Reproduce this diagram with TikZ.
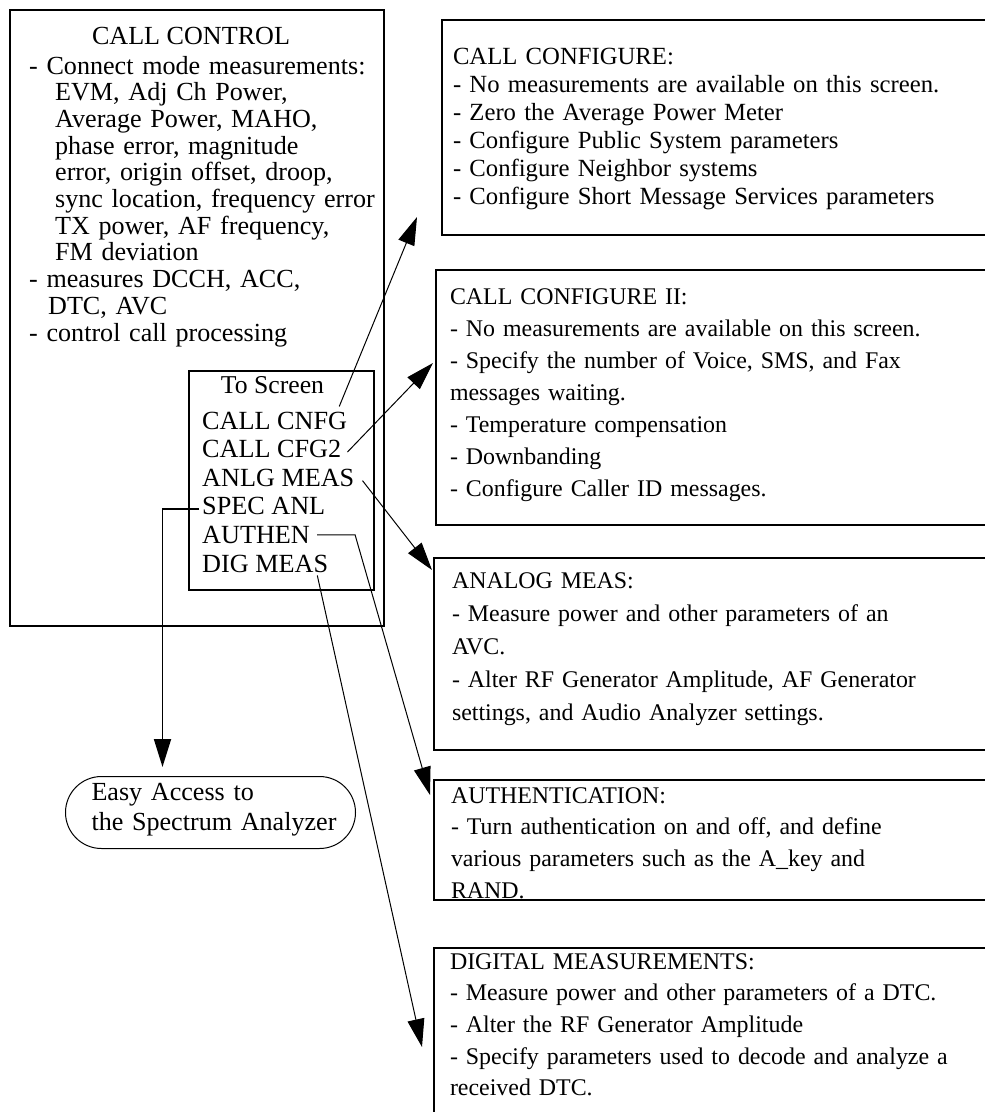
\documentclass[tikz,border=0pt]{standalone}
\usepackage{fontspec}
\setmainfont{Liberation Serif}
\usetikzlibrary{positioning, arrows.meta, calc}

\begin{document}
\begin{tikzpicture}[x=1pt, y=-1pt,
    ctlframe/.style={draw, line width=2pt, inner sep=0pt, anchor=north west},
    scrbox/.style={draw, line width=2pt, inner ysep=0pt, anchor=north west, text width=530pt, align=left, font=\fontsize{23.9}{32}\selectfont},
    scritem/.style={inner sep=0pt, anchor=base west, font=\fontsize{26.2}{28}\selectfont},
    arrow/.style={line width=1pt, -{Triangle[length=28pt,width=17pt]}},
]
\useasboundingbox (0,0) rectangle (985,1112);
\clip (0,0) rectangle (985,1112);

% Call control screen
\node (ctrl) [ctlframe, minimum width=374pt, minimum height=616pt] at (9,9) {};
\node (ctrltitle) [anchor=base, inner sep=0pt, font=\fontsize{26.1}{27}\selectfont] at (191,44) {CALL CONTROL};
\node (ctrllist) [anchor=base west, text width=420pt, align=left, inner sep=0pt, font=\fontsize{26.1}{26.7}\selectfont] at (29,74) {- Connect mode measurements:\\
  \hspace*{26pt}EVM, Adj Ch Power,\\
  \hspace*{26pt}Average Power, MAHO,\\
  \hspace*{26pt}phase error, magnitude\\
  \hspace*{26pt}error, origin offset, droop,\\
  \hspace*{26pt}sync location, frequency error\\
  \hspace*{26pt}TX power, AF frequency,\\
  \hspace*{26pt}FM deviation\\
  - measures DCCH, ACC,\\
  \hspace*{19pt}DTC, AVC\\
  - control call processing};

% To Screen keys
\node (toscr) [ctlframe, minimum width=185pt, minimum height=219pt] at (188,370) {};
\node (toscrtitle) [anchor=base, inner sep=0pt, font=\fontsize{25.7}{28}\selectfont] at (272.5,393) {To Screen};
\node (cnfg) [scritem] at (202,429) {CALL CNFG};
\node (cfgtwo) [below=28.6pt of cnfg.base west, scritem] {CALL CFG2};
\node (anlg) [below=28.6pt of cfgtwo.base west, scritem] {ANLG MEAS};
\node (spec) [below=28.6pt of anlg.base west, scritem] {SPEC ANL};
\node (authen) [below=28.6pt of spec.base west, scritem] {AUTHEN};
\node (dig) [below=28.6pt of authen.base west, scritem] {DIG MEAS};

\node (easy) [draw, line width=1pt, rounded corners=36pt, anchor=north west, inner xsep=15pt, inner ysep=0pt, text width=260pt, text height=24pt, text depth=48pt, align=left, font=\fontsize{26.1}{30}\selectfont] at (65,776) {\hspace*{11pt}Easy Access to\\\hspace*{11pt}the Spectrum Analyzer};

% Target screens
\node (cfg) [scrbox, inner xsep=11pt, text height=44pt, text depth=171pt, font=\fontsize{24.7}{28}\selectfont] at (441,19) {CALL CONFIGURE:\\- No measurements are available on this screen.\\- Zero the Average Power Meter\\- Configure Public System parameters\\- Configure Neighbor systems\\- Configure Short Message Services parameters};
\node (cfgii) [scrbox, inner xsep=14pt, text height=34pt, text depth=221pt] at (435,269) {CALL CONFIGURE II:\\- No measurements are available on this screen.\\- Specify the number of Voice, SMS, and Fax\\messages waiting.\\- Temperature compensation\\- Downbanding\\- Configure Caller ID messages.};
\node (anmeas) [scrbox, inner xsep=18pt, text height=30pt, text depth=162pt, font=\fontsize{23.9}{33}\selectfont] at (433,557) {ANALOG MEAS:\\- Measure power and other parameters of an\\AVC.\\- Alter RF Generator Amplitude, AF Generator\\settings, and Audio Analyzer settings.};
\node (authbox) [scrbox, inner xsep=17pt, text height=23pt, text depth=97pt, font=\fontsize{23.9}{31.7}\selectfont] at (433,779) {AUTHENTICATION:\\- Turn authentication on and off, and define\\various parameters such as the A\_key and\\RAND.};
\node (digmeas) [scrbox, inner xsep=16pt, text height=21pt, text depth=150pt, font=\fontsize{23.9}{31.7}\selectfont] at (433,947) {DIGITAL MEASUREMENTS:\\- Measure power and other parameters of a DTC.\\- Alter the RF Generator Amplitude\\- Specify parameters used to decode and analyze a\\received DTC.};

% Arrows
\draw [arrow] ([shift={(-8pt,5pt)}]cnfg.north east) -- ($(cfg.south west)+(-24,-19)$);
\draw [arrow] ([shift={(6pt,-3pt)}]cfgtwo.east) -- ($(cfgii.north west)+(-2,94)$);
\draw [arrow] ([shift={(8pt,-3pt)}]anlg.east) -- ($(anmeas.north west)+(-1,13)$);
\draw [arrow, line width=1.8pt] ([shift={(-3pt,-2.5pt)}]spec.west) -| ($(easy.north)+(-48,-9)$);
\draw [arrow] ([xshift=7pt]authen.east) -- ++(38,0) -- ($(authbox.north west)+(-3,16)$);
\draw [arrow] ([shift={(-11pt,-3pt)}]dig.south east) -- ($(digmeas.north west)+(-11,100)$);

\end{tikzpicture}
\end{document}
